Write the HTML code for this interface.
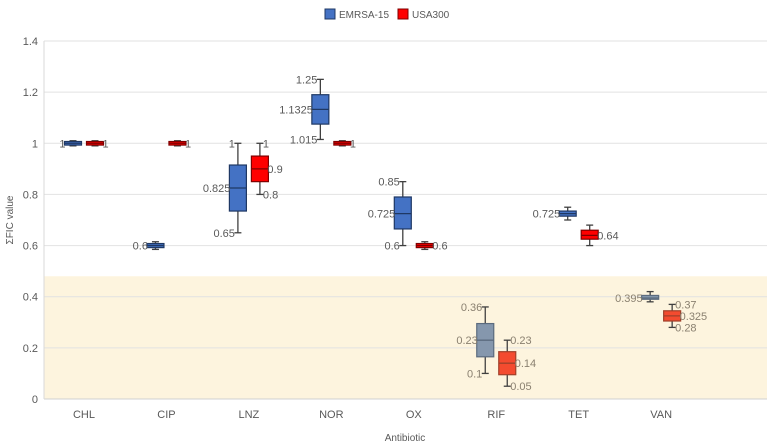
<!DOCTYPE html>
<html><head><meta charset="utf-8">
<style>
html,body{margin:0;padding:0;background:#fff;}
svg{display:block;font-family:"Liberation Sans",sans-serif;}
</style></head>
<body>
<svg id="chart" width="772" height="448" viewBox="0 0 772 448"></svg>
<script>
const categories=["CHL","CIP","LNZ","NOR","OX","RIF","TET","VAN"];
// [min,q1,median,q3,max]
const emrsa=[[0.99,0.993,1,1.007,1.01],[0.585,0.592,0.6,0.608,0.615],[0.65,0.735,0.825,0.915,1],[1.015,1.075,1.1325,1.19,1.25],[0.6,0.665,0.725,0.79,0.85],[0.1,0.165,0.23,0.295,0.36],[0.7,0.715,0.725,0.735,0.75],[0.38,0.39,0.395,0.405,0.42]];
const usa=[[0.99,0.993,1,1.007,1.01],[0.99,0.993,1,1.007,1.01],[0.8,0.85,0.9,0.95,1],[0.99,0.993,1,1.007,1.01],[0.585,0.592,0.6,0.608,0.615],[0.05,0.095,0.14,0.185,0.23],[0.6,0.625,0.64,0.66,0.68],[0.28,0.305,0.325,0.345,0.37]];
const emrsaLabels=[["1"],["0.6"],["1","0.825","0.65"],["1.25","1.1325","1.015"],["0.85","0.725","0.6"],["0.36","0.23","0.1"],["0.725"],["0.395"]];
const usaLabels=[["1"],["1"],["1","0.9","0.8"],["1"],["0.6"],["0.23","0.14","0.05"],["0.64"],["0.37","0.325","0.28"]];
const yTicks=[0,0.2,0.4,0.6,0.8,1,1.2,1.4];
const bandMax=0.48;

const svg=document.getElementById('chart');
const NS='http://www.w3.org/2000/svg';
const L=44,R=767,T=41,B=399;
const y=v=>B-(v/1.4)*(B-T);
const x=i=>84+i*82.45;
function mk(t,a,p){const e=document.createElementNS(NS,t);for(const k in a)e.setAttribute(k,a[k]);(p||svg).appendChild(e);return e;}

const band=mk('rect',{x:L,y:y(bandMax),width:R-L,height:B-y(bandMax),fill:'#fdf4de'});



yTicks.forEach(t=>{
  const g=mk('line',{x1:L,x2:R,y1:y(t),y2:y(t),stroke:t===0?'#d0d0d0':'#e2e2e2','stroke-width':1});
  
  
  const tx=mk('text',{x:38,y:y(t)+4,'text-anchor':'end','font-size':11,fill:'#595959'});
  tx.textContent=String(t);
  
  
});
const al=mk('line',{x1:L,x2:L,y1:T,y2:B,stroke:'#d9d9d9'});



categories.forEach((c,i)=>{
  const t=mk('text',{x:x(i),y:418,'text-anchor':'middle','font-size':11,fill:'#595959'});
  t.textContent=c;
  
  
});

function drawBox(d,cx,series,labels){
  const inBand=d[4]<bandMax;
  let fill,stroke,tcol;
  if(series===0){fill=inBand?'#8597ad':'#4472c4';stroke=inBand?'#5b6b7e':'#1f3864';tcol=inBand?'#8a8070':'#595959';}
  else{fill=inBand?'#f44b2f':'#ff0000';stroke=inBand?'#a0402a':'#7f0000';tcol=inBand?'#8a8070':'#595959';}
  const g=mk('g',{});
  
  
  const w=17,h=w/2;
  mk('line',{x1:cx,x2:cx,y1:y(d[4]),y2:y(d[0]),stroke:'#404040','stroke-width':1.3},g);
  mk('line',{x1:cx-3.5,x2:cx+3.5,y1:y(d[4]),y2:y(d[4]),stroke:'#404040','stroke-width':1.3},g);
  mk('line',{x1:cx-3.5,x2:cx+3.5,y1:y(d[0]),y2:y(d[0]),stroke:'#404040','stroke-width':1.3},g);
  mk('rect',{x:cx-h,y:y(d[3]),width:w,height:Math.max(y(d[1])-y(d[3]),1),fill:fill,stroke:stroke,'stroke-width':1.2},g);
  mk('line',{x1:cx-h,x2:cx+h,y1:y(d[2]),y2:y(d[2]),stroke:stroke,'stroke-width':1.3},g);
  const anchor=series===0?'end':'start', lx=series===0?cx-h+1:cx+h-1, wx=series===0?cx-3:cx+3;
  let pos;
  if(labels.length===3) pos=[[wx,d[4]],[lx,d[2]],[wx,d[0]]];
  else pos=[[lx,d[2]]];
  labels.forEach((s,k)=>{
    const t=mk('text',{x:pos[k][0],y:y(pos[k][1])+4,'text-anchor':anchor,'font-size':11,fill:tcol},g);
    t.textContent=s;
    
    
  });
}
categories.forEach((c,i)=>{
  drawBox(emrsa[i],x(i)-11,0,emrsaLabels[i]);
  drawBox(usa[i],x(i)+11,1,usaLabels[i]);
});

const yt=mk('text',{transform:'translate(13,220) rotate(-90)','text-anchor':'middle','font-size':10,fill:'#595959'});
yt.textContent='ΣFIC value';


const xt=mk('text',{x:405,y:441,'text-anchor':'middle','font-size':10,fill:'#595959'});
xt.textContent='Antibiotic';



const lg=mk('g',{});


const le1=mk('g',{},lg);


mk('rect',{x:325,y:9,width:10,height:10,fill:'#4472c4',stroke:'#1f3864'},le1);
const t1=mk('text',{x:339,y:18,'font-size':10,fill:'#595959'},le1);t1.textContent='EMRSA-15';
const le2=mk('g',{},lg);


mk('rect',{x:398,y:9,width:10,height:10,fill:'#ff0000',stroke:'#7f0000'},le2);
const t2=mk('text',{x:412,y:18,'font-size':10,fill:'#595959'},le2);t2.textContent='USA300';
</script>
</body></html>
